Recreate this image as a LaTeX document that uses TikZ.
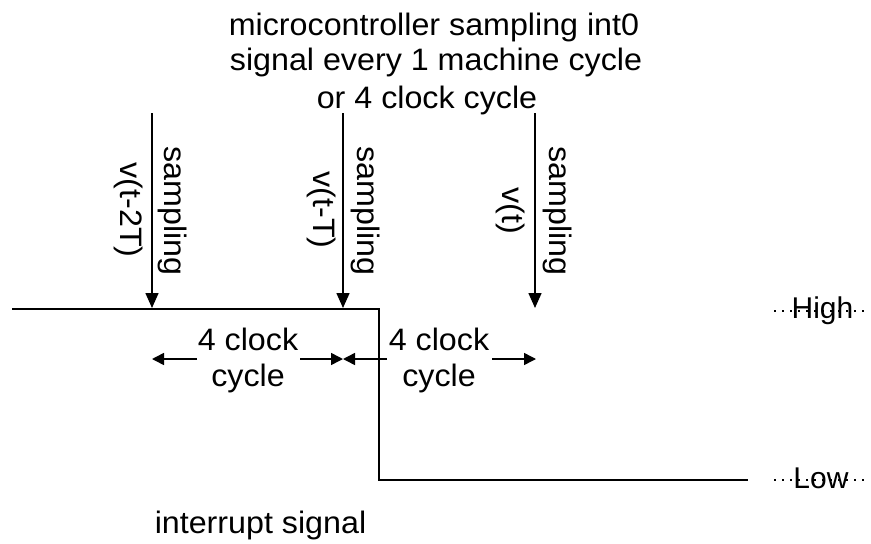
\documentclass[tikz,border=0pt]{standalone}
\usepackage{fontspec}
\setmainfont{Liberation Sans}[FakeStretch=1.04]
\newfontfamily\lvlfont{Liberation Sans}
\usetikzlibrary{arrows.meta}
\begin{document}
\begin{tikzpicture}[x=1pt,y=-1pt,
  txt/.style={inner sep=0pt, font=\fontsize{31}{36}\selectfont, text=black},
  vtxt/.style={txt, rotate=-90},
  lvl/.style={inner sep=0pt, font=\lvlfont\fontsize{30}{36}\selectfont, text=black},
  wave/.style={line width=1.8pt, line join=miter},
  samp/.style={line width=1.5pt, -{Triangle[length=15pt,width=13pt]}},
  clk/.style={line width=1.5pt, -{Triangle[length=12pt,width=12pt]}},
  dots/.style={line width=2pt, dash pattern=on 2pt off 6pt}]
\useasboundingbox (0,0) rectangle (871,544);

% title
\node[txt, anchor=base] (t1) at (434,35) {microcontroller sampling int0};
\node[txt, anchor=base] (t2) at (436,70) {signal every 1 machine cycle};
\node[txt, anchor=base] (t3) at (427,108) {or 4 clock cycle};

% waveform
\coordinate (hi0) at (12,309);
\coordinate (hic) at (379,309);
\coordinate (loc) at (379,480);
\coordinate (lo1) at (748,480);
\draw[wave] (hi0) -- (hic) -- (loc) -- (lo1);

% sampling arrows
\coordinate (s1a) at (152,113); \coordinate (s1b) at (152,308);
\coordinate (s2a) at (343,113); \coordinate (s2b) at (343,308);
\coordinate (s3a) at (535,113); \coordinate (s3b) at (535,308);
\draw[samp] (s1a) -- (s1b);
\draw[samp] (s2a) -- (s2b);
\draw[samp] (s3a) -- (s3b);

\node[vtxt, anchor=south] (sa1) at (158,211) {sampling};
\node[vtxt, anchor=north] (va1) at (143,210) {v(t-2T)};
\node[vtxt, anchor=south] (sa2) at (351,211) {sampling};
\node[vtxt, anchor=north] (va2) at (336,210) {v(t-T)};
\node[vtxt, anchor=south] (sa3) at (543,211) {sampling};
\node[vtxt, anchor=north] (va3) at (525,210.5) {v(t)};

% clock-cycle spans
\node[txt, anchor=base] (c1a) at (248,350) {4 clock};
\node[txt, anchor=base] (c1b) at (248,386) {cycle};
\node[txt, anchor=base] (c2a) at (439,350) {4 clock};
\node[txt, anchor=base] (c2b) at (439,386) {cycle};

\coordinate (k1s) at (197,359); \coordinate (k1t) at (152,359);
\coordinate (k2s) at (300,359); \coordinate (k2t) at (343,359);
\coordinate (k3s) at (387,359); \coordinate (k3t) at (343,359);
\coordinate (k4s) at (492,359); \coordinate (k4t) at (536,359);
\draw[clk] (k1s) -- (k1t);
\draw[clk] (k2s) -- (k2t);
\draw[clk] (k3s) -- (k3t);
\draw[clk] (k4s) -- (k4t);

% levels
\coordinate (h0) at (774,311); \coordinate (h1) at (868,311);
\coordinate (l0) at (774,480); \coordinate (l1) at (864,480);
\draw[dots] (h0) -- (h1);
\draw[dots] (l0) -- (l1);
\node[lvl, anchor=base] (high) at (822.5,318) {High};
\node[lvl, anchor=base] (low) at (821,488) {Low};

% caption
\node[txt, anchor=base] (cap) at (260.5,533) {interrupt signal};
\end{tikzpicture}
\end{document}
